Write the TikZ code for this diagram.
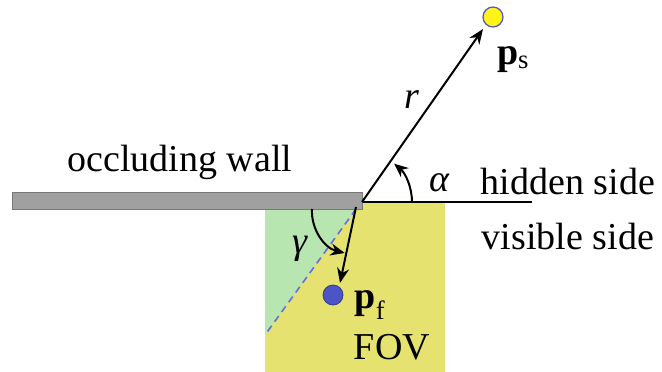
\documentclass[tikz,border=0pt]{standalone}
\usepackage{fontspec}
\setmainfont{Liberation Serif}
\usetikzlibrary{arrows.meta}
\definecolor{wallgray}{RGB}{160,160,160}
\definecolor{walledge}{RGB}{120,120,120}
\definecolor{fovgreen}{RGB}{184,230,176}
\definecolor{fovyellow}{RGB}{230,226,112}
\definecolor{ptblue}{RGB}{75,85,200}
\definecolor{dashblue}{RGB}{100,110,220}
\begin{document}
\begin{tikzpicture}[x=1pt,y=-1pt,
  lbl/.style={inner sep=0pt,font=\fontsize{38}{44}\selectfont},
  vec/.style={line width=2pt,-{Stealth[length=15pt,width=12pt]}},
  angarc/.style={line width=2pt,-{Stealth[length=14pt,width=12pt]}}]
\useasboundingbox (0,0) rectangle (662,372);
% FOV regions
\fill[fovyellow] (265,202) rectangle (445,372);
\fill[fovgreen] (265,209) -- (356,209) -- (265,335) -- cycle;
\draw[dashblue,line width=1.6pt,dash pattern=on 7pt off 5pt] (356,209) -- (265,335);
% horizontal line
\draw[line width=1.6pt] (362,202) -- (532,202);
% wall
\fill[wallgray,draw=walledge,line width=1pt] (12,192) rectangle (362,209);
\coordinate (corner) at (362,202);
\coordinate (fstart) at (356,207);
% points
\node[circle,minimum size=20pt,inner sep=0pt,fill=yellow!90!white,draw=ptblue,line width=1.2pt] (ps) at (493,17) {};
\node[circle,minimum size=20pt,inner sep=0pt,fill=ptblue,draw=ptblue!70!black,line width=0.8pt] (pf) at (333,295) {};
% vectors
\draw[vec] (corner) -- (483,29);
\draw[vec] (fstart) -- (340,283);
% angle arcs
\draw[angarc] (412,202) arc[start angle=0,end angle=-50,radius=50];
\draw[angarc] (312,209) arc[start angle=183,end angle=104,radius=43];
% labels
\node[lbl] (r) at (412,100) {\textit{r}};
\node[lbl] (alpha) at (440,183) {\textit{α}};
\node[lbl] (gamma) at (300,249) {\textit{γ}};
\node[lbl] (pslbl) at (513,60) {\textbf{p}\textsubscript{s}};
\node[lbl] (pflbl) at (370,305) {\textbf{p}\textsubscript{f}};
\node[lbl] (fov) at (392,347) {FOV};
\node[lbl] (hidden) at (568,182) {hidden side};
\node[lbl] (visible) at (568,236) {visible side};
\node[lbl] (wall) at (180,162) {occluding wall};
\end{tikzpicture}
\end{document}
